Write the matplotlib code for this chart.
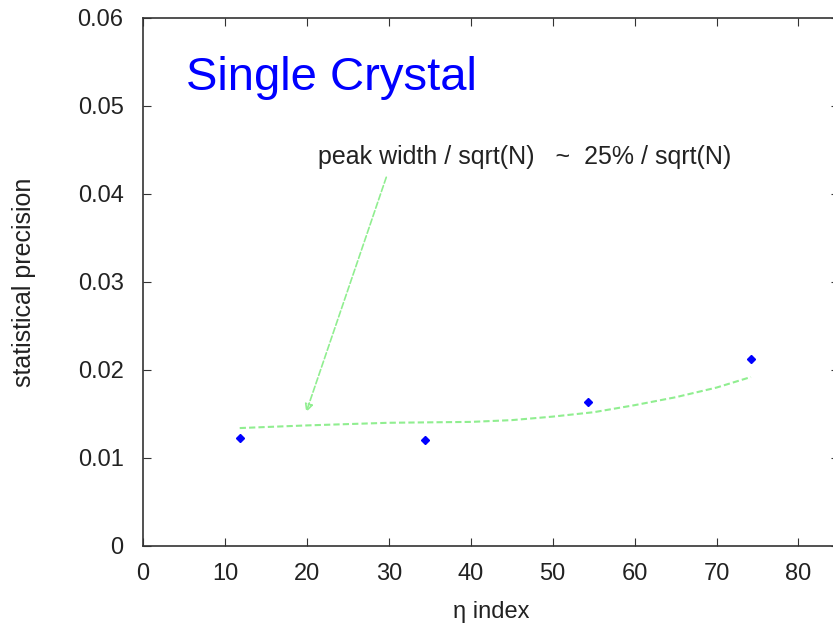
import matplotlib.pyplot as plt

# measured points (eta index vs statistical precision)
eta_idx = [11.8, 34.4, 54.3, 74.2]
precision = [0.01227, 0.01205, 0.01636, 0.02125]

# expectation curve: peak width / sqrt(N)
curve_x = [11.8, 20, 30, 40, 45, 50, 55, 60, 65, 70, 74.2]
curve_y = [0.0134, 0.0137, 0.0140, 0.0141, 0.0143, 0.0147, 0.0152, 0.0160, 0.0169, 0.0180, 0.0192]

x_ticks = [0, 10, 20, 30, 40, 50, 60, 70, 80]
y_ticks = [0, 0.01, 0.02, 0.03, 0.04, 0.05, 0.06]
y_tick_labels = ['0', '0.01', '0.02', '0.03', '0.04', '0.05', '0.06']

plt.rcParams['font.family'] = ['Liberation Sans', 'DejaVu Sans']

fig = plt.figure(figsize=(8.33, 6.29), dpi=100)
ax = fig.add_axes([0.1717, 0.132, 0.836, 0.8394])

ax.plot(curve_x, curve_y, linestyle='--', color='#90ee90', linewidth=1.5, dashes=(3, 1.5))
ax.plot(eta_idx, precision, linestyle='none', marker='D', markersize=4, color='#0000ff')

ax.annotate('', xy=(19.8, 0.0149), xytext=(29.8, 0.0422),
            arrowprops=dict(arrowstyle='-|>', color='#90ee90', linestyle='--',
                            linewidth=1.2, fill=False, mutation_scale=12))
ax.text(21.4, 0.0442, 'peak width / sqrt(N)   ~  25% / sqrt(N)', fontsize=18,
        color='#222222', va='center', ha='left')
ax.text(5.2, 0.0532, 'Single Crystal', fontsize=34, color='#0000ff', va='center', ha='left')

ax.set_xlim(0, 85)
ax.set_ylim(0, 0.06)
ax.set_xticks(x_ticks)
ax.set_yticks(y_ticks)
ax.set_yticklabels(y_tick_labels)
ax.tick_params(direction='in', top=True, right=True, labelsize=17, length=6,
               colors='#333333', labelcolor='#222222')
ax.tick_params(axis='y', pad=14)
ax.tick_params(axis='x', pad=12)
for s in ax.spines.values():
    s.set_color('#333333')
    s.set_linewidth(1.2)

ax.set_xlabel('η index', fontsize=17, color='#222222', labelpad=12)
ax.set_ylabel('statistical precision', fontsize=18, color='#222222', labelpad=30)

fig.savefig('out.png', dpi=100)
